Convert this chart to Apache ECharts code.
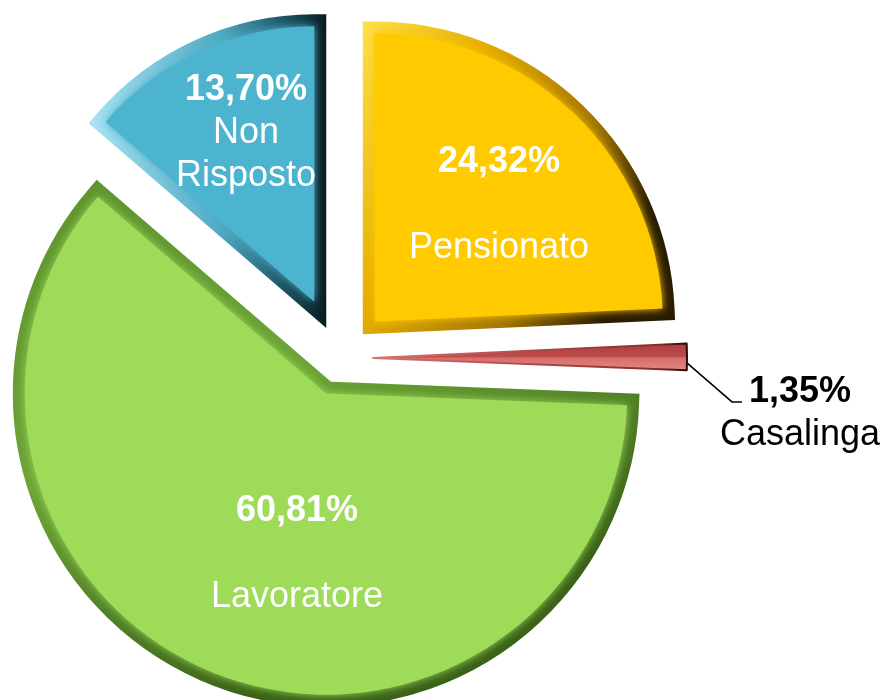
<!DOCTYPE html>
<html>
<head>
<meta charset="utf-8">
<script src="https://cdn.jsdelivr.net/npm/echarts@6/dist/echarts.min.js"></script>
<style>
  html, body { margin: 0; padding: 0; background: #ffffff; }
  #chart { width: 888px; height: 700px; }
</style>
</head>
<body>
<div id="chart"></div>
<script>
// Occupational status of respondents (percent)
const categories = ['Pensionato', 'Casalinga', 'Lavoratore', 'Non Risposto'];
const percentages = [24.32, 1.35, 60.81, 13.70];

// Slice face colours
const faceColors = ['#FFCA00', '#C54F4D', '#9DDB58', '#4DB4CF'];
// Bevel rim gradients: direction (x,y -> x2,y2 within the slice box) and colour stops
const rimGradients = [
  { x: 0, y: 0, x2: 1, y2: 0.45, stops: [[0, '#FFE04A'], [0.35, '#E5AE00'], [0.75, '#A07400'], [1, '#2A1C00']] },
  null,
  { x: 0, y: 0, x2: 0.35, y2: 1, stops: [[0, '#5E922E'], [0.5, '#6CA536'], [1, '#3A6217']] },
  { x: 0, y: 0, x2: 1, y2: 0, stops: [[0, '#A6E2F2'], [0.55, '#4EAAC3'], [0.8, '#1F5A6A'], [1, '#081A20']] }
];

// Geometry
const CX = 340, CY = 358;   // pie centre
const OUTER_R = 315;        // outer radius of each slice
const EXPLODE = 33;         // distance each slice is pulled out
const BEVEL = 12;           // width of the bevelled rim

// Label block centres relative to the pie centre; blank line between value and name where set
const labelSpots = [[159, -153], [460, 56], [-43, 196], [-94, -225]];
const spacedLabel = [true, false, true, false];

const FONT = '"Liberation Sans", Arial, sans-serif';
const total = percentages.reduce((a, b) => a + b, 0);

function startOf(i) {
  let acc = 0;
  for (let k = 0; k < i; k++) acc += percentages[k];
  return acc;
}
function sweep(i) { return percentages[i] / total * 2 * Math.PI; }
function midAngle(i) { return (startOf(i) + percentages[i] / 2) / total * 2 * Math.PI; }

function gradient(g) {
  return {
    type: 'linear', x: g.x, y: g.y, x2: g.x2, y2: g.y2,
    colorStops: g.stops.map(s => ({ offset: s[0], color: s[1] }))
  };
}

const hidden = {
  itemStyle: { color: 'rgba(0,0,0,0)', borderWidth: 0 },
  label: { show: false },
  labelLine: { show: false }
};

// One slice placed at its own angle, the rest of the circle left empty
function sliceData(i, item) {
  const before = startOf(i);
  const after = total - before - percentages[i];
  return [
    Object.assign({ name: '_pre', value: before }, hidden),
    Object.assign({ name: categories[i], value: percentages[i] }, item),
    Object.assign({ name: '_post', value: after }, hidden)
  ];
}

function labelText(i) {
  const pct = percentages[i].toFixed(2).replace('.', ',') + '%';
  const lines = ['{p|' + pct + '}'];
  if (spacedLabel[i]) lines.push('{n| }');
  categories[i].split(' ').forEach(w => lines.push('{n|' + w + '}'));
  return lines.join('\n');
}

function labelOption(i, color, position) {
  return {
    show: true,
    position: position,
    color: color,
    align: 'center',
    fontFamily: FONT,
    fontSize: 36,
    lineHeight: 43,
    formatter: () => labelText(i),
    rich: {
      p: { fontFamily: FONT, fontSize: 36, fontWeight: 'bold', lineHeight: 43, align: 'center', color: color },
      n: { fontFamily: FONT, fontSize: 36, lineHeight: 43, align: 'center', color: color }
    }
  };
}

function basePie(center, r, data) {
  return {
    type: 'pie',
    silent: true,
    center: center,
    radius: [0, r],
    startAngle: 90,
    clockwise: true,
    avoidLabelOverlap: false,
    label: { show: false },
    labelLine: { show: false },
    emphasis: { disabled: true },
    data: data
  };
}

const series = [];
categories.forEach((name, i) => {
  const m = midAngle(i);
  const th = sweep(i);
  const ux = Math.sin(m), uy = -Math.cos(m);

  if (i === 1) {
    // thin sliver: shaded fill with a dark edge
    const d = EXPLODE;
    const s = basePie([CX + d * ux, CY + d * uy], OUTER_R - 1, sliceData(i, {
      itemStyle: {
        color: {
          type: 'linear', x: 0, y: 0, x2: 0, y2: 1,
          colorStops: [
            { offset: 0, color: '#A83E3C' }, { offset: 0.48, color: '#BF4C4A' },
            { offset: 0.55, color: '#D66E6C' }, { offset: 1, color: '#E58A88' }
          ]
        },
        borderColor: {
          type: 'linear', x: 0, y: 0, x2: 1, y2: 0,
          colorStops: [{ offset: 0, color: '#D87572' }, { offset: 0.9, color: '#8A2C2A' }, { offset: 1, color: '#2A0606' }]
        },
        borderWidth: 2
      },
      label: labelOption(i, '#000000', 'outside'),
      labelLine: { show: true, lineStyle: { color: '#000000', width: 1.5 } }
    }));
    s.labelLayout = function () {
      const rr = EXPLODE + OUTER_R - 8;
      const p0 = [CX + rr * ux, CY + rr * uy];
      const p1 = [p0[0] + 52, p0[1] + 45];
      const p2 = [p1[0] + 10, p1[1]];
      return {
        x: CX + labelSpots[i][0], y: CY + labelSpots[i][1],
        align: 'center', verticalAlign: 'middle',
        labelLinePoints: [p0, p1, p2]
      };
    };
    series.push(s);
    return;
  }

  // inset of the rim: apex shift along the bisector (reduced for reflex slices)
  let shift = BEVEL / Math.sin(th / 2);
  if (th > Math.PI) shift *= 0.4;
  const d = EXPLODE + shift;
  // split the arc error between the middle and the ends of the slice
  const r = OUTER_R - BEVEL - shift + shift * (1 - Math.cos(Math.min(th, Math.PI * 1.2) / 2)) / 2;
  const center = [CX + d * ux, CY + d * uy];

  // rim: wide stroke around the face outline
  series.push(basePie(center, r, sliceData(i, {
    itemStyle: {
      color: 'rgba(0,0,0,0)',
      borderColor: gradient(rimGradients[i]),
      borderWidth: BEVEL * 2,
      borderJoin: 'miter',
      borderMiterLimit: 20
    }
  })));

  // face: flat colour softened into the rim
  const face = basePie(center, r, sliceData(i, {
    itemStyle: {
      color: faceColors[i],
      borderWidth: 0,
      shadowBlur: 9,
      shadowColor: faceColors[i]
    },
    label: labelOption(i, '#ffffff', 'inside')
  }));
  face.labelLayout = function () {
    return {
      x: CX + labelSpots[i][0], y: CY + labelSpots[i][1],
      align: 'center', verticalAlign: 'middle'
    };
  };
  series.push(face);
});

const chart = echarts.init(document.getElementById('chart'), null, { renderer: 'canvas' });
chart.setOption({
  backgroundColor: '#ffffff',
  animation: false,
  series: series
});
</script>
</body>
</html>
